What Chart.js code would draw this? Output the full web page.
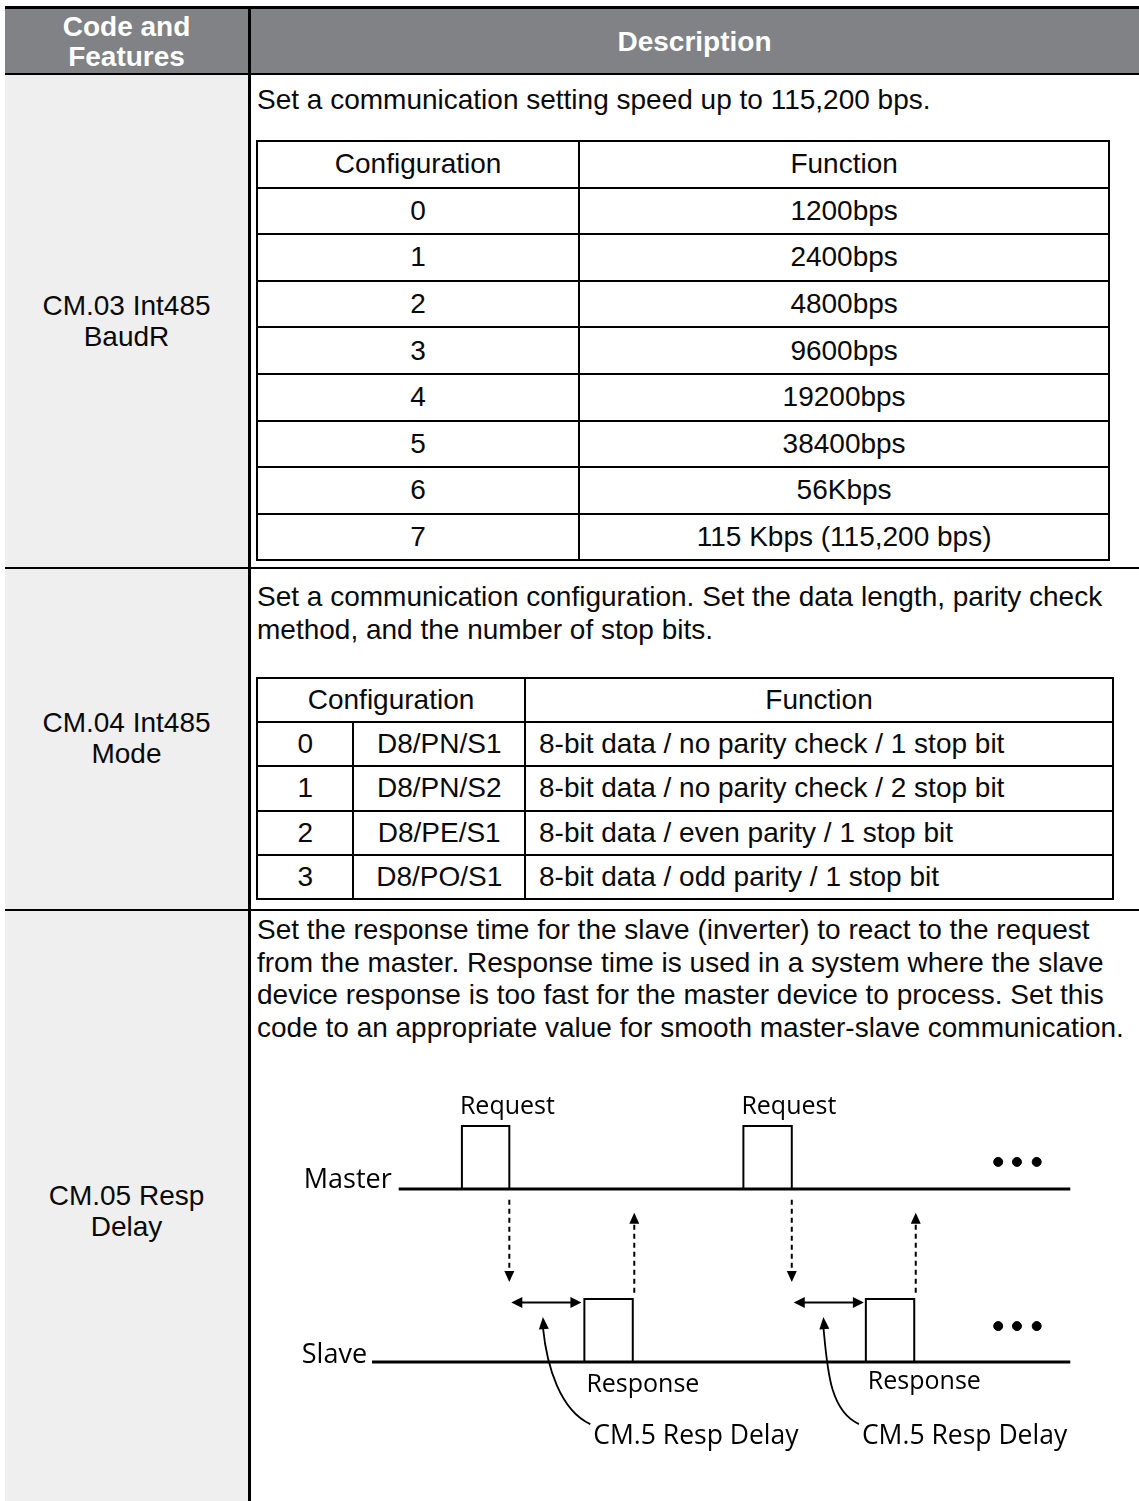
<!DOCTYPE html>
<html>
<head>
<meta charset="utf-8">
<script src="https://cdn.jsdelivr.net/npm/chart.js@4/dist/chart.umd.min.js"></script>
<style>
  html, body { margin: 0; padding: 0; background: #fff; }
  body { width: 1139px; height: 1501px; position: relative; overflow: hidden;
         font-family: "Liberation Sans", Arial, sans-serif; color: #0a0a0a; }
  .abs { position: absolute; }
  .hdr { color: #fff; font-weight: bold; font-size: 28px; text-align: center; line-height: 30px; }
  .code { font-size: 28px; text-align: center; line-height: 31px; }
  .para { font-size: 28px; line-height: 32.5px; white-space: nowrap; }
  table.inner { position: absolute; border-collapse: collapse; font-size: 28px; }
  table.inner td { border: 2px solid #000; padding: 0; text-align: center; white-space: nowrap; }
  table.inner td.left { text-align: left; padding-left: 13px; }
</style>
</head>
<body>
<div id="page"></div>
<canvas id="diagram" class="abs" style="left:250px;top:1060px;width:889px;height:441px;" width="889" height="441"></canvas>
<script>
// ---------- DATA ----------
const headerLabels = ["Code and<br>Features", "Description"];
const codeLabels = ["CM.03 Int485<br>BaudR", "CM.04 Int485<br>Mode", "CM.05 Resp<br>Delay"];
const descBaud = ["Set a communication setting speed up to 115,200 bps."];
const baudHeader = ["Configuration", "Function"];
const baudConfig = ["0", "1", "2", "3", "4", "5", "6", "7"];
const baudFunction = ["1200bps", "2400bps", "4800bps", "9600bps", "19200bps", "38400bps", "56Kbps", "115 Kbps (115,200 bps)"];
const descMode = ["Set a communication configuration. Set the data length, parity check",
                  "method, and the number of stop bits."];
const modeHeader = ["Configuration", "Function"];
const modeConfig = ["0", "1", "2", "3"];
const modeCode = ["D8/PN/S1", "D8/PN/S2", "D8/PE/S1", "D8/PO/S1"];
const modeFunction = ["8-bit data / no parity check / 1 stop bit",
                      "8-bit data / no parity check / 2 stop bit",
                      "8-bit data / even parity / 1 stop bit",
                      "8-bit data / odd parity / 1 stop bit"];
const descDelay = ["Set the response time for the slave (inverter) to react to the request",
                   "from the master. Response time is used in a system where the slave",
                   "device response is too fast for the master device to process. Set this",
                   "code to an appropriate value for smooth master-slave communication."];

// timing diagram (time units along x, signal level along y)
const masterLevel = 2.75;          // master low level
const slaveLevel = 0;              // slave low level
const pulseHeight = 1;
const masterSpan = [0, 680];
const slaveSpan = [-27, 680];
const requestPulses = [[64, 112], [349, 398]];
const responsePulses = [[188, 237], [473, 522]];
const delayArrows = [[114, 185], [400, 471]];
const continueDots = [607, 626, 646];
const signalLabels = ["Master", "Slave"];
const requestLabel = "Request";
const responseLabel = "Response";
const delayLabel = "CM.5 Resp Delay";
const delayLabelX = [197, 469];
const curveTipX = [146, 430];

// ---------- TABLE LAYOUT ----------
const page = document.getElementById('page');
function div(style, html, cls) {
  const d = document.createElement('div');
  d.className = 'abs ' + (cls || '');
  d.style.cssText = style;
  if (html !== undefined) d.innerHTML = html;
  page.appendChild(d);
  return d;
}
// header band
div('left:5px;top:6px;width:1134px;height:69px;background:#808285;');
div('left:5px;top:6px;width:1134px;height:2.5px;background:#000;');
div('left:5px;top:72.5px;width:1134px;height:2.5px;background:#000;');
div('left:5px;top:12px;width:243px;', headerLabels[0], 'hdr');
div('left:250px;top:27px;width:889px;', headerLabels[1], 'hdr');
// left column
div('left:5px;top:75px;width:243px;height:1426px;background:#efefef;');
// row separators
div('left:5px;top:567px;width:1134px;height:2px;background:#000;');
div('left:5px;top:909px;width:1134px;height:2px;background:#000;');
// vertical divider
div('left:248px;top:6px;width:2.5px;height:1495px;background:#000;');
// code labels
const codeTops = [290, 707, 1180];
codeLabels.forEach((t, i) => div('left:5px;top:' + codeTops[i] + 'px;width:243px;', t, 'code'));

// descriptions
function para(lines, top) {
  div('left:257px;top:' + top + 'px;', lines.join('<br>'), 'para');
}
para(descBaud, 84);
para(descMode, 581);
para(descDelay, 914);

// inner tables
function makeTable(left, top, width, rowH, colWidths, headerCells, rows, leftCols) {
  const t = document.createElement('table');
  t.className = 'inner';
  t.style.left = left + 'px'; t.style.top = top + 'px'; t.style.width = width + 'px';
  const cg = document.createElement('colgroup');
  colWidths.forEach(w => { const c = document.createElement('col'); c.style.width = w + 'px'; cg.appendChild(c); });
  t.appendChild(cg);
  const hr = document.createElement('tr'); hr.style.height = rowH + 'px';
  headerCells.forEach(h => { const td = document.createElement('td'); td.textContent = h.text; if (h.span) td.colSpan = h.span; hr.appendChild(td); });
  t.appendChild(hr);
  rows.forEach(r => {
    const tr = document.createElement('tr'); tr.style.height = rowH + 'px';
    r.forEach((c, j) => { const td = document.createElement('td'); td.textContent = c; if (leftCols.includes(j)) td.className = 'left'; tr.appendChild(td); });
    t.appendChild(tr);
  });
  page.appendChild(t);
}
makeTable(256, 140, 854, 46.6, [323, 531],
  [{text: baudHeader[0]}, {text: baudHeader[1]}],
  baudConfig.map((c, i) => [c, baudFunction[i]]), []);
makeTable(256, 677, 858, 44.2, [97, 172, 589],
  [{text: modeHeader[0], span: 2}, {text: modeHeader[1]}],
  modeConfig.map((c, i) => [c, modeCode[i], modeFunction[i]]), [2]);

// ---------- DIAGRAM (Chart.js) ----------
function pulseLine(p, base) {
  return [{x: p[0], y: base}, {x: p[0], y: base + pulseHeight}, {x: p[1], y: base + pulseHeight}, {x: p[1], y: base}];
}
const datasets = [];
datasets.push({ data: [{x: masterSpan[0], y: masterLevel}, {x: masterSpan[1], y: masterLevel}], borderWidth: 3 });
datasets.push({ data: [{x: slaveSpan[0], y: slaveLevel}, {x: slaveSpan[1], y: slaveLevel}], borderWidth: 3 });
requestPulses.forEach(p => datasets.push({ data: pulseLine(p, masterLevel), borderWidth: 2 }));
responsePulses.forEach(p => datasets.push({ data: pulseLine(p, slaveLevel), borderWidth: 2 }));
datasets.push({ data: continueDots.map(x => ({x, y: masterLevel + 0.43})), showLine: false, pointRadius: 4.5, backgroundColor: '#000' });
datasets.push({ data: continueDots.map(x => ({x, y: slaveLevel + 0.57})), showLine: false, pointRadius: 4.5, backgroundColor: '#000' });
datasets.forEach(d => { d.borderColor = '#000'; d.fill = false; d.tension = 0; if (d.pointRadius === undefined) d.pointRadius = 0; d.borderCapStyle = 'butt'; d.borderJoinStyle = 'miter'; });

function arrowHead(ctx, x, y, angle, len, w) {
  ctx.save();
  ctx.translate(x, y); ctx.rotate(angle);
  ctx.beginPath(); ctx.moveTo(0, 0); ctx.lineTo(-len, -w / 2); ctx.lineTo(-len, w / 2); ctx.closePath();
  ctx.fillStyle = '#000'; ctx.fill();
  ctx.restore();
}

const annotate = {
  id: 'annotate',
  afterDatasetsDraw(chart) {
    const ctx = chart.ctx, xs = chart.scales.x, ys = chart.scales.y;
    const X = v => xs.getPixelForValue(v), Y = v => ys.getPixelForValue(v);
    ctx.save();
    ctx.strokeStyle = '#000'; ctx.fillStyle = '#000';
    // dashed request -> slave arrows
    ctx.lineWidth = 2;
    requestPulses.forEach(p => {
      const x = X(p[1]);
      const y0 = Y(masterLevel - 0.17), y1 = Y(slaveLevel + 1.27);
      ctx.setLineDash([5, 4]);
      ctx.beginPath(); ctx.moveTo(x, y0); ctx.lineTo(x, y1 - 10); ctx.stroke();
      ctx.setLineDash([]);
      arrowHead(ctx, x, y1, Math.PI / 2, 11, 10);
    });
    // dashed response -> master arrows
    responsePulses.forEach(p => {
      const x = X(p[1]) + 1.5;
      const y0 = Y(slaveLevel + 1.1), y1 = Y(masterLevel - 0.38);
      ctx.setLineDash([5, 4]);
      ctx.beginPath(); ctx.moveTo(x, y0); ctx.lineTo(x, y1 + 10); ctx.stroke();
      ctx.setLineDash([]);
      arrowHead(ctx, x, y1, -Math.PI / 2, 11, 10);
    });
    // double arrows (delay)
    delayArrows.forEach(a => {
      const y = Y(slaveLevel + 0.946);
      const x0 = X(a[0]), x1 = X(a[1]);
      ctx.beginPath(); ctx.moveTo(x0 + 8, y); ctx.lineTo(x1 - 8, y); ctx.stroke();
      arrowHead(ctx, x0, y, Math.PI, 11, 11);
      arrowHead(ctx, x1, y, 0, 11, 11);
    });
    // curved pointer arrows
    ctx.lineWidth = 1.8;
    curveTipX.forEach((tx, i) => {
      const tipX = X(tx), tipY = Y(slaveLevel + 0.713);
      const endX = X(delayLabelX[i] - 3), endY = Y(slaveLevel - 0.99);
      ctx.beginPath();
      ctx.moveTo(endX, endY);
      ctx.bezierCurveTo(endX - 30, endY - 14, tipX + 4, tipY + 50, tipX, tipY + 10);
      ctx.stroke();
      arrowHead(ctx, tipX, tipY, -Math.PI / 2 - 0.08, 12, 10);
    });
    // texts
    ctx.font = '27px "Open Sans", sans-serif';
    ctx.textBaseline = 'alphabetic';
    ctx.textAlign = 'right';
    ctx.fillText(signalLabels[0], X(masterSpan[0]) - 7, Y(masterLevel) - 1);
    ctx.fillText(signalLabels[1], X(slaveSpan[0]) - 5, Y(slaveLevel) + 1);
    ctx.font = '25px "Open Sans", sans-serif';
    ctx.textAlign = 'left';
    requestPulses.forEach(p => ctx.fillText(requestLabel, X(p[0]) - 2, Y(masterLevel + 1.19)));
    responsePulses.forEach((p, i) => ctx.fillText(responseLabel, X(p[0]) + 2, Y(slaveLevel - (i === 0 ? 0.48 : 0.43))));
    ctx.font = '26.5px "Open Sans", sans-serif';
    delayLabelX.forEach(x => ctx.fillText(delayLabel, X(x), Y(slaveLevel - 1.3)));
    ctx.restore();
  }
};

new Chart(document.getElementById('diagram'), {
  type: 'line',
  data: { datasets },
  options: {
    responsive: false,
    animation: false,
    events: [],
    layout: { padding: 0 },
    plugins: { legend: { display: false }, tooltip: { enabled: false } },
    scales: {
      x: { type: 'linear', display: false, min: -145, max: 744 },
      y: { type: 'linear', display: false, min: -2.124, max: 4.713 }
    }
  },
  plugins: [annotate]
});
</script>
</body>
</html>
